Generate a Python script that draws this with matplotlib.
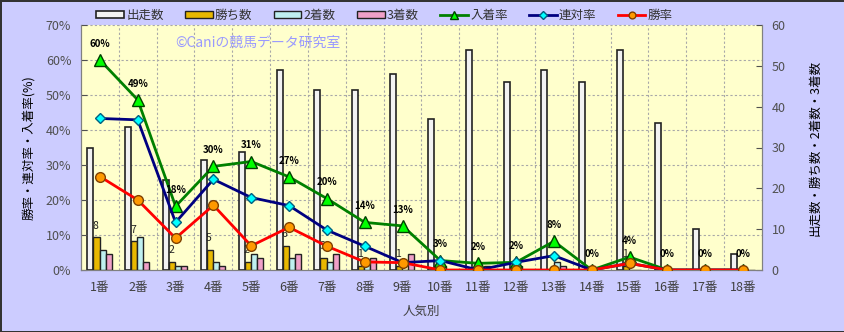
import numpy as np
import matplotlib.pyplot as plt

plt.rcParams['font.family'] = ['Noto Sans CJK JP', 'DejaVu Sans']

# data
labels = ['%d番' % i for i in range(1, 19)]
runs = [30, 35, 22, 27, 29, 49, 44, 44, 48, 37, 54, 46, 49, 46, 54, 36, 10, 4]
wins = [8, 7, 2, 5, 2, 6, 3, 1, 1, 0, 0, 0, 0, 0, 1, 0, 0, 0]
seconds = [5, 8, 1, 2, 4, 3, 2, 2, 0, 1, 0, 1, 2, 0, 0, 0, 0, 0]
thirds = [4, 2, 1, 1, 3, 4, 4, 3, 4, 0, 1, 0, 1, 0, 0, 0, 0, 0]
place_rate = [60.0, 48.6, 18.2, 29.6, 31.0, 26.6, 20.4, 13.6, 12.6, 2.7, 1.9, 2.2, 8.2, 0, 3.7, 0, 0, 0]
quinella_rate = [43.3, 42.9, 13.6, 25.9, 20.7, 18.4, 11.4, 6.8, 2.1, 2.7, 0, 2.2, 4.1, 0, 1.9, 0, 0, 0]
win_rate = [26.7, 20.0, 9.1, 18.5, 6.9, 12.2, 6.8, 2.3, 2.1, 0, 0, 0, 0, 0, 1.9, 0, 0, 0]

bg = '#CCCCFF'
fig = plt.figure(figsize=(8.45, 3.32), dpi=100, facecolor=bg, edgecolor='#333333', linewidth=2)
ax = fig.add_axes([81/845, 62/332, 681/845, 245/332])
ax2 = ax.twinx()

x = np.arange(len(labels))
w = 0.16

# counts on ax (back), rates on ax2 (front)
ax.set_facecolor('#FFFFCC')
ax.bar(x - 0.25, runs, w, color='#F2F2F2', edgecolor='#222222', linewidth=1.2, label='出走数', zorder=3)
ax.bar(x - 0.09, wins, w, color='#E8B800', edgecolor='#222222', linewidth=1, label='勝ち数', zorder=3)
ax.bar(x + 0.07, seconds, w, color='#BFF0F0', edgecolor='#222222', linewidth=1, label='2着数', zorder=3)
ax.bar(x + 0.23, thirds, w, color='#F0A0C8', edgecolor='#222222', linewidth=1, label='3着数', zorder=3)
for xi, v in zip(x, wins):
    if v > 0:
        ax.text(xi - 0.12, v + 1.6, str(v), ha='center', va='bottom', fontsize=7.5, color='#222222', zorder=4)

ax2.plot(x, place_rate, color='#008000', lw=2, marker='^', ms=8, mfc='#00FF00', mec='#004000', label='入着率', zorder=3)
ax2.plot(x, quinella_rate, color='#000080', lw=2, marker='D', ms=5.5, mfc='#00FFFF', mec='#006080', label='連対率', zorder=4)
ax2.plot(x, win_rate, color='#FF0000', lw=2, marker='o', ms=7, mfc='#FF9900', mec='#804000', label='勝率', zorder=5)
for xi, v in zip(x, place_rate):
    ax2.annotate('%.0f%%' % v, (xi, v), xytext=(0, 8), textcoords='offset points',
                 ha='center', va='bottom', fontsize=7, fontweight='bold')

ax.set_xlim(-0.5, len(labels) - 0.5)
ax.set_ylim(0, 60)
ax2.set_ylim(0, 70)

# grid: vertical at category boundaries, horizontal at 10% steps
for b in np.arange(0.5, len(labels) - 0.5):
    ax.axvline(b, color='#A8A8A8', lw=0.8, ls=(0, (2, 2)), zorder=1)
for p in range(10, 71, 10):
    ax.plot([0, 1], [p, p], transform=ax2.get_yaxis_transform(), color='#A8A8A8',
            lw=0.8, ls=(0, (2, 2)), zorder=1, clip_on=False)

ax.set_xticks(x)
ax.set_xticklabels(labels)
ax.tick_params(axis='x', length=0, pad=8, labelsize=9, colors='#404040')
ax.yaxis.tick_right()
ax.yaxis.set_label_position('right')
ax.set_yticks(range(0, 61, 10))
ax.tick_params(axis='y', direction='in', length=4, labelsize=9, colors='#505050', pad=7)
ax2.yaxis.tick_left()
ax2.yaxis.set_label_position('left')
ax2.set_yticks(range(0, 71, 10))
ax2.set_yticklabels(['%d%%' % v for v in range(0, 71, 10)])
ax2.tick_params(axis='y', direction='in', length=4, labelsize=9, colors='#505050', pad=7)
for a in (ax, ax2):
    for s in a.spines.values():
        s.set_color('#808080')
    a.spines['top'].set_visible(False)

ax.set_xlabel('人気別', fontsize=9, color='#404040', labelpad=8)
ax2.set_ylabel('勝率・連対率・入着率(%)', fontsize=9, labelpad=8)
ax.set_ylabel('出走数・勝ち数・2着数・3着数', fontsize=9, labelpad=16)
ax.yaxis.label.set_color('black')

fig.text(0.305, 1 - 43/332, '©Caniの競馬データ研究室', fontsize=10, color='#9999FF', ha='center', va='center')

h1, l1 = ax.get_legend_handles_labels()
h2, l2 = ax2.get_legend_handles_labels()
fig.legend(h1 + h2, l1 + l2, loc='center left', bbox_to_anchor=(85/845, 1 - 15/332), ncol=7,
           frameon=False, fontsize=9, handlelength=2.2, handleheight=0.5, columnspacing=1.7,
           handletextpad=0.2, markerscale=0.7, labelcolor='#333333')

fig.savefig('out.png', dpi=100, facecolor=bg, edgecolor='#333333')
